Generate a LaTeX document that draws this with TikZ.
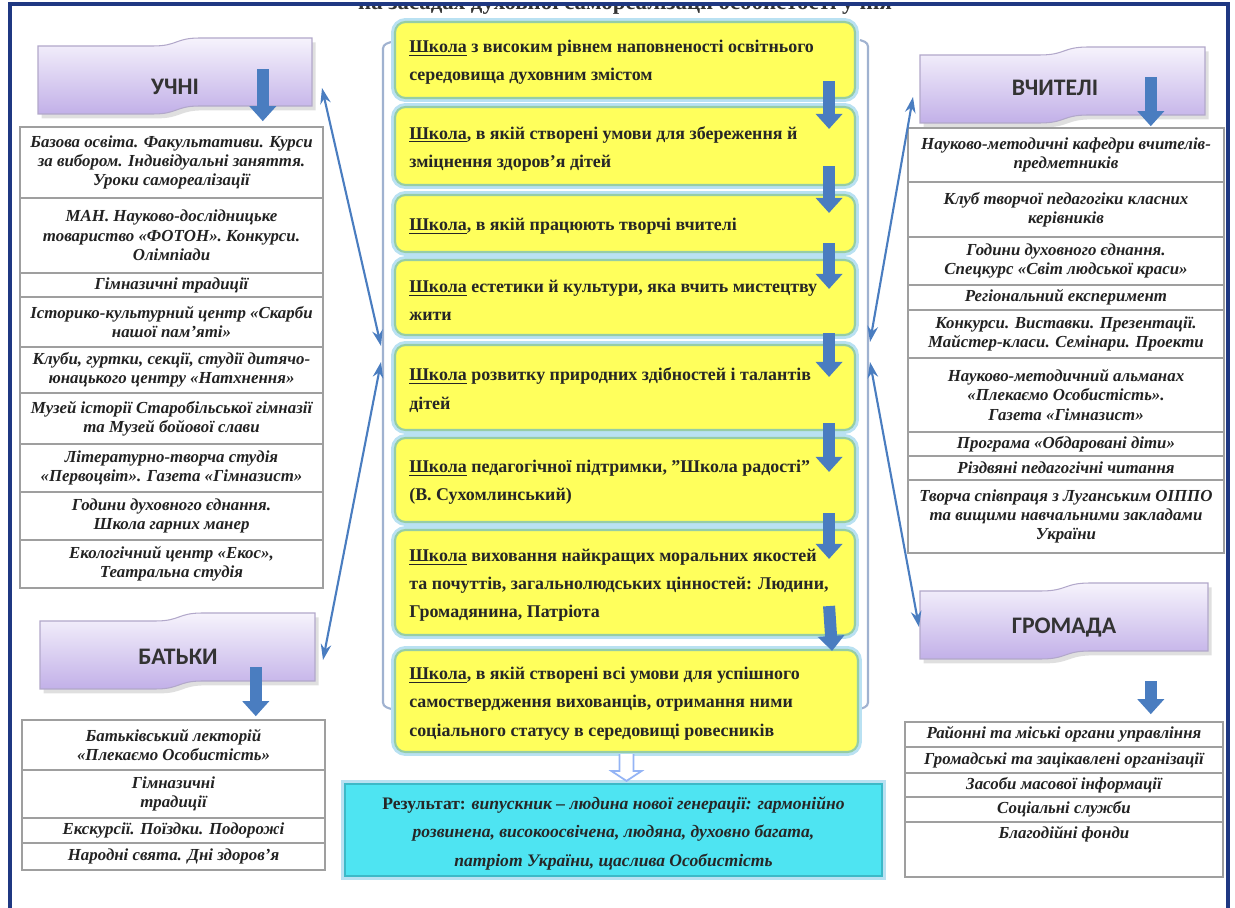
\documentclass[tikz,border=0pt]{standalone}
\usepackage{fontspec}
\setmainfont{Liberation Serif}
\newfontfamily\bannerfont{Carlito}
\usetikzlibrary{positioning, fit, calc, arrows.meta, shadows}

\definecolor{framenavy}{RGB}{31,56,130}
\definecolor{arrowblue}{RGB}{74,125,192}
\definecolor{boxyellow}{RGB}{255,255,92}
\definecolor{boxedge}{RGB}{150,205,165}
\definecolor{boxglow}{RGB}{185,225,242}
\definecolor{resultcyan}{RGB}{78,228,242}
\definecolor{resultedge}{RGB}{60,185,200}
\definecolor{lavtop}{RGB}{246,243,252}
\definecolor{lavbot}{RGB}{194,176,232}
\definecolor{lavedge}{RGB}{178,168,202}
\definecolor{bracketgray}{RGB}{160,178,208}
\definecolor{celltext}{RGB}{34,34,34}

\tikzset{
  cell/.style={draw=gray!75, line width=0.9pt, inner sep=0pt}, % one row of a side table
  celltext/.style={inner sep=0pt, align=center, text=celltext,
    font=\fontsize{9.6}{11}\selectfont\bfseries\itshape},
  school/.style={draw=boxedge, line width=1.2pt, fill=boxyellow, rounded corners=6pt,
    inner sep=0pt, preaction={draw=boxglow, line width=4.5pt}}, % yellow step of the school model
  schooltext/.style={anchor=west, inner sep=0pt, yshift=-1.5pt, align=left, text=black!85,
    font=\fontsize{10.2}{16}\selectfont\bfseries},
  result/.style={draw=resultedge, line width=1.2pt, fill=resultcyan, inner sep=0pt,
    preaction={draw=boxglow, line width=4pt}},
  resulttext/.style={inner sep=0pt, yshift=-2pt, align=center, text=black!85,
    font=\fontsize{10}{16}\selectfont\bfseries},
  bannerbody/.style={draw=lavedge, line width=0.6pt, top color=lavtop, bottom color=lavbot,
    drop shadow={shadow xshift=2pt, shadow yshift=-2.5pt, fill=gray!50, opacity=0.5}},
  bannertext/.style={font=\bannerfont\fontsize{13.5}{15}\selectfont\bfseries, text=black!80},
  banner/.pic={ % wavy ribbon, #1 = width
    \path[bannerbody] (0,8) -- ({0.42*#1},8) .. controls ({0.51*#1},8) and ({0.5*#1},0) .. ({0.59*#1},0)
      -- (#1,0) -- (#1,68) -- ({0.59*#1},68) .. controls ({0.5*#1},68) and ({0.51*#1},76) .. ({0.42*#1},76)
      -- (0,76) -- cycle;
  },
  bigarrow/.style={draw=arrowblue, line width=0.24cm, -{Triangle[length=0.3cm, width=0.52cm]}},
  thinarrow/.style={draw=arrowblue, line width=1.2pt,
    {Stealth[length=9pt, width=6pt]}-{Stealth[length=9pt, width=6pt]}},
  hollowarrow/.style={draw=boxglow!80!blue, line width=1pt, fill=white},
  bracket/.style={draw=bracketgray, line width=1.2pt, rounded corners=2pt},
}

\begin{document}
\begin{tikzpicture}[x=0.02cm, y=-0.02cm] % 1 unit = 1 px of the sketch, y runs down
\useasboundingbox (0,0) rectangle (1235,908);

% frame and the cut title
\begin{scope}
  \clip (10,5) rectangle (1228,30);
  \node[font=\fontsize{13}{15}\selectfont\bfseries, text=black!80] (title) at (625,4)
    {на засадах духовної самореалізації особистості учня};
\end{scope}
\draw[framenavy, line width=2pt] (10,930) -- (10,4) -- (1228,4) -- (1228,930);

% brackets round the school model
\draw[bracket] (391,42) -- (383,45) -- (383,706) -- (391,709);
\draw[bracket] (860,40) -- (868,43) -- (868,706) -- (860,709);
\coordinate (lbrA) at (381,346);
\coordinate (lbrB) at (381,362);
\coordinate (rbrA) at (870,342);
\coordinate (rbrB) at (870,362);

% school model
\node[school, fit={(395,22) (855,98)}] (b1) {};
\node[school, fit={(395,107) (855,185)}] (b2) {};
\node[school, fit={(395,195) (855,252)}] (b3) {};
\node[school, fit={(395,260) (855,335)}] (b4) {};
\node[school, fit={(395,345) (855,430)}] (b5) {};
\node[school, fit={(395,438) (855,522)}] (b6) {};
\node[school, fit={(395,530) (855,635)}] (b7) {};
\node[school, fit={(395,650) (858,752)}] (b8) {};
\node[schooltext] (b1t) at ($(b1.west)+(15,0)$)
  {\underline{Школа} з високим рівнем наповненості освітнього\\середовища духовним змістом};
\node[schooltext] (b2t) at ($(b2.west)+(15,0)$)
  {\underline{Школа}, в якій створені умови для збереження й\\зміцнення здоров'я дітей};
\node[schooltext] (b3t) at ($(b3.west)+(15,0)$)
  {\underline{Школа}, в якій працюють творчі вчителі};
\node[schooltext] (b4t) at ($(b4.west)+(15,0)$)
  {\underline{Школа} естетики й культури, яка вчить мистецтву\\жити};
\node[schooltext] (b5t) at ($(b5.west)+(15,0)$)
  {\underline{Школа} розвитку природних здібностей і талантів\\дітей};
\node[schooltext] (b6t) at ($(b6.west)+(15,0)$)
  {\underline{Школа} педагогічної підтримки, "Школа радості"\\(В. Сухомлинський)};
\node[schooltext] (b7t) at ($(b7.west)+(15,0)$)
  {\underline{Школа} виховання найкращих моральних якостей\\та почуттів, загальнолюдських цінностей: Людини,\\Громадянина, Патріота};
\node[schooltext] (b8t) at ($(b8.west)+(15,0)$)
  {\underline{Школа}, в якій створені всі умови для успішного\\самоствердження вихованців, отримання ними\\соціального статусу в середовищі ровесників};

\node[result, fit={(345,784) (882,876)}] (res) {};
\node[resulttext] (rest) at (res)
  {Результат: \textit{випускник – людина нової генерації: гармонійно}\\
   \textit{розвинена, високоосвічена, людяна, духовно багата,}\\
   \textit{патріот України, щаслива Особистість}};

\foreach \i/\j/\ya/\yb in {1/2/-18/23, 2/3/-20/19, 3/4/-10/30, 4/5/-3/33, 5/6/-8/35, 6/7/-10/30, 7/8/-30/2}
  \draw[bigarrow] ($(b\i.south east)+(-27,\ya)$) -- ($(b\j.north east)+(-27,\yb)$);

\draw[hollowarrow] ($(b8.south)+(-7,1)$) -- ++(0,17) -- ++(-8,0) -- ($(b8.south |- res.north)+(0,-2)$)
  -- ($(b8.south)+(15,18)$) -- ++(-8,0) -- ($(b8.south)+(7,1)$);

% pupils
\pic at (38,38) {banner=274};
\node[bannertext] (uchni) at (175,87) {УЧНІ};
\coordinate (uchni-end) at (322,88);
\node[cell, fit={(20,127) (323,198)}] (u1) {};
\node[cell, fit={(20,198) (323,273)}] (u2) {};
\node[cell, fit={(20,273) (323,297)}] (u3) {};
\node[cell, fit={(20,297) (323,347)}] (u4) {};
\node[cell, fit={(20,347) (323,393)}] (u5) {};
\node[cell, fit={(20,393) (323,444)}] (u6) {};
\node[cell, fit={(20,444) (323,492)}] (u7) {};
\node[cell, fit={(20,492) (323,540)}] (u8) {};
\node[cell, fit={(20,540) (323,588)}] (u9) {};
\node[celltext] (u1t) at (u1) {Базова освіта. Факультативи. Курси\\за вибором. Індивідуальні заняття.\\Уроки самореалізації};
\node[celltext] (u2t) at (u2) {МАН. Науково-дослідницьке\\товариство «ФОТОН». Конкурси.\\Олімпіади};
\node[celltext] (u3t) at (u3) {Гімназичні традиції};
\node[celltext] (u4t) at (u4) {Історико-культурний центр «Скарби\\нашої пам'яті»};
\node[celltext] (u5t) at (u5) {Клуби, гуртки, секції, студії дитячо-\\юнацького центру «Натхнення»};
\node[celltext] (u6t) at (u6) {Музей історії Старобільської гімназії\\та Музей бойової слави};
\node[celltext] (u7t) at (u7) {Літературно-творча студія\\«Первоцвіт». Газета «Гімназист»};
\node[celltext] (u8t) at (u8) {Години духовного єднання.\\Школа гарних манер};
\node[celltext] (u9t) at (u9) {Екологічний центр «Екос»,\\Театральна студія};
\draw[bigarrow] (u1.north east) ++(-61,-57) -- ++(0,52);

% parents
\pic at (40,613) {banner=275};
\node[bannertext] (batky) at (178,657) {БАТЬКИ};
\coordinate (batky-end) at (323,660);
\node[cell, fit={(22,720) (325,770)}] (p1) {};
\node[cell, fit={(22,770) (325,818)}] (p2) {};
\node[cell, fit={(22,818) (325,843)}] (p3) {};
\node[cell, fit={(22,843) (325,870)}] (p4) {};
\node[celltext] (p1t) at (p1) {Батьківський лекторій\\«Плекаємо Особистість»};
\node[celltext] (p2t) at (p2) {Гімназичні\\традиції};
\node[celltext] (p3t) at (p3) {Екскурсії. Поїздки. Подорожі};
\node[celltext] (p4t) at (p4) {Народні свята. Дні здоров'я};
\draw[bigarrow] (p1.north east) ++(-70,-52) -- ++(0,49);

% teachers
\pic at (920,47) {banner=285};
\node[bannertext] (vchyteli) at (1055,88) {ВЧИТЕЛІ};
\coordinate (vchyteli-end) at (913,97);
\node[cell, fit={(908,128) (1224,182)}] (t1) {};
\node[cell, fit={(908,182) (1224,237)}] (t2) {};
\node[cell, fit={(908,237) (1224,285)}] (t3) {};
\node[cell, fit={(908,285) (1224,310)}] (t4) {};
\node[cell, fit={(908,310) (1224,358)}] (t5) {};
\node[cell, fit={(908,358) (1224,432)}] (t6) {};
\node[cell, fit={(908,432) (1224,456)}] (t7) {};
\node[cell, fit={(908,456) (1224,480)}] (t8) {};
\node[cell, fit={(908,480) (1224,553)}] (t9) {};
\node[celltext] (t1t) at (t1) {Науково-методичні кафедри вчителів-\\предметників};
\node[celltext] (t2t) at (t2) {Клуб творчої педагогіки класних\\керівників};
\node[celltext] (t3t) at (t3) {Години духовного єднання.\\Спецкурс «Світ людської краси»};
\node[celltext] (t4t) at (t4) {Регіональний експеримент};
\node[celltext] (t5t) at (t5) {Конкурси. Виставки. Презентації.\\Майстер-класи. Семінари. Проекти};
\node[celltext] (t6t) at (t6) {Науково-методичний альманах\\«Плекаємо Особистість».\\Газета «Гімназист»};
\node[celltext] (t7t) at (t7) {Програма «Обдаровані діти»};
\node[celltext] (t8t) at (t8) {Різдвяні педагогічні читання};
\node[celltext] (t9t) at (t9) {Творча співпраця з Луганським ОІППО\\та вищими навчальними закладами\\України};
\draw[bigarrow] (t1.north east) ++(-74,-50) -- ++(0,49);

% community
\pic at (920,583) {banner=288};
\node[bannertext] (hromada) at (1064,628) {ГРОМАДА};
\coordinate (hromada-end) at (919,627);
\node[cell, fit={(905,722) (1223,747)}] (g1) {};
\node[cell, fit={(905,747) (1223,773)}] (g2) {};
\node[cell, fit={(905,773) (1223,797)}] (g3) {};
\node[cell, fit={(905,797) (1223,822)}] (g4) {};
\node[cell, fit={(905,822) (1223,877)}] (g5) {};
\node[celltext] (g1t) at (g1) {Районні та міські органи управління};
\node[celltext] (g2t) at (g2) {Громадські та зацікавлені організації};
\node[celltext] (g3t) at (g3) {Засоби масової інформації};
\node[celltext] (g4t) at (g4) {Соціальні служби};
\node[celltext] (g5t) at ($(g5.north)+(0,13)$) {Благодійні фонди};
\draw[bigarrow] (g1.north east) ++(-73,-40) -- ++(0,33);

% links between the groups and the school model
\draw[thinarrow] (uchni-end) -- (lbrA);
\draw[thinarrow] (lbrB) -- (batky-end);
\draw[thinarrow] (vchyteli-end) -- (rbrA);
\draw[thinarrow] (rbrB) -- (hromada-end);
\end{tikzpicture}
\end{document}
